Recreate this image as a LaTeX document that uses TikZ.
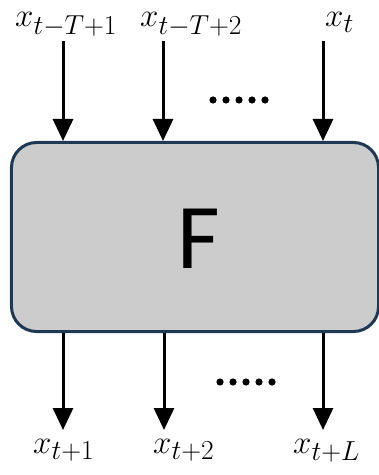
\documentclass[tikz,border=0pt]{standalone}
\usepackage{graphicx}
\usepackage{fontspec}
\newfontfamily\boxfont{Carlito}
\usetikzlibrary{arrows.meta}
\definecolor{boxfill}{RGB}{204,204,204}
\definecolor{boxedge}{RGB}{31,56,84}
\newcommand{\biglbl}[1]{\scalebox{1.33}{\Huge$#1$}}
\begin{document}
\begin{tikzpicture}[x=1bp,y=-1bp,
  block/.style={draw=boxedge,fill=boxfill,line width=3bp,rounded corners=25bp,
    minimum width=367bp,minimum height=189bp,inner sep=0pt},
  lbl/.style={anchor=base west,inner sep=0pt},
  flow/.style={line width=3bp,-{Triangle[width=20bp,length=22bp]}},
  dot/.style={fill=black}]
\useasboundingbox (0,0) rectangle (378,475);

% the function block (its right side runs off the page edge)
\node[block] (F) at (195,237) {};
\node[inner sep=0pt,font=\boxfont\fontsize{93}{100}\selectfont] (Fl) at (199,239) {F};

% input labels and arrow starts
\node[lbl] (in1) at (15,27) {\biglbl{x_{t-T+1}}};
\node[lbl] (in2) at (140,27) {\biglbl{x_{t-T+2}}};
\node[lbl] (in3) at (325,27) {\biglbl{x_{t}}};
\coordinate (s1) at (63,41);
\coordinate (s2) at (163,41);
\coordinate (s3) at (323,41);
\draw[flow] (s1) -- (s1 |- F.north);
\draw[flow] (s2) -- (s2 |- F.north);
\draw[flow] (s3) -- (s3 |- F.north);

% output labels and arrow ends
\node[lbl] (out1) at (33,453) {\biglbl{x_{t+1}}};
\node[lbl] (out2) at (153,453) {\biglbl{x_{t+2}}};
\node[lbl] (out3) at (293,453) {\biglbl{x_{t+L}}};
\coordinate (e1) at (63,430);
\coordinate (e2) at (164,430);
\coordinate (e3) at (323,430);
\draw[flow] (e1 |- F.south) -- (e1);
\draw[flow] (e2 |- F.south) -- (e2);
\draw[flow] (e3 |- F.south) -- (e3);

% ellipsis dots
\foreach \x in {213,226,239,252,265} \fill[dot] (\x,100) circle (3.6bp);
\foreach \x in {220,233,246,259,272} \fill[dot] (\x,382) circle (3.6bp);
\end{tikzpicture}
\end{document}
